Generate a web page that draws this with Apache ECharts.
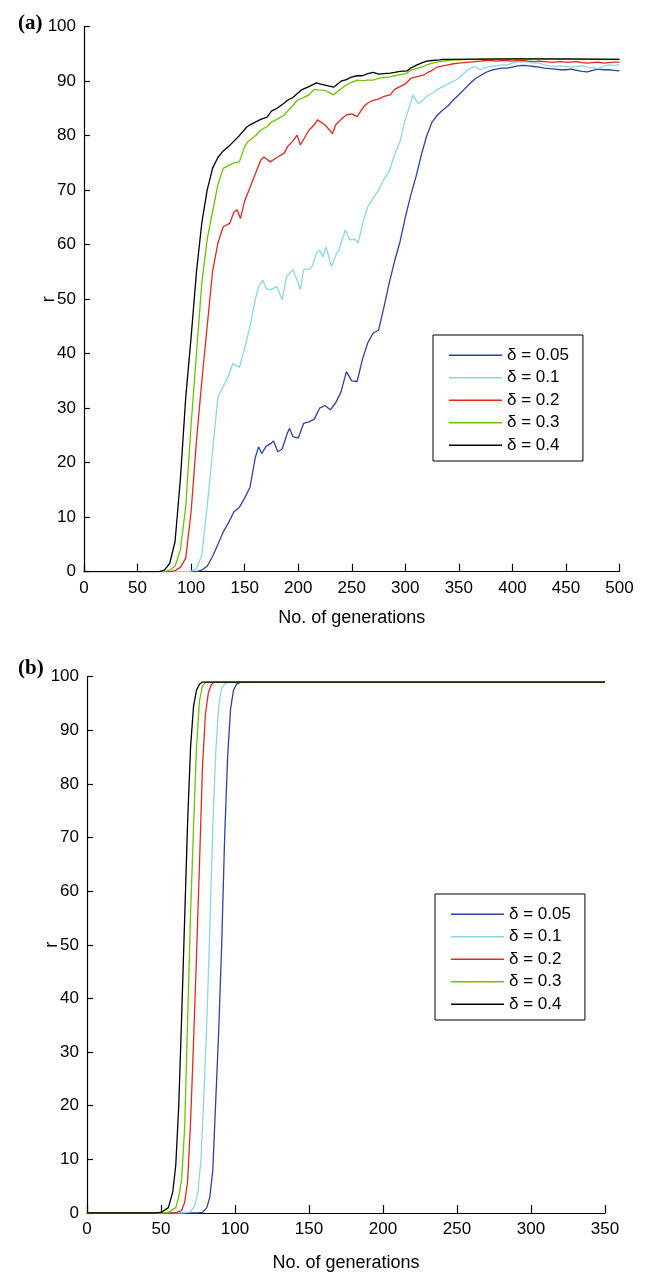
<!DOCTYPE html>
<html>
<head>
<meta charset="utf-8">
<script src="https://cdn.jsdelivr.net/npm/echarts@6/dist/echarts.min.js"></script>
<style>
  html, body { margin: 0; padding: 0; background: #fff; }
  #chart { width: 646px; height: 1273px; }
</style>
</head>
<body>
<div id="chart"></div>
<script>
// Legend / series names
const seriesNames = ['δ = 0.05', 'δ = 0.1', 'δ = 0.2', 'δ = 0.3', 'δ = 0.4'];
const seriesColors = ['#3041a6', '#8ad8e6', '#e5281d', '#6cc400', '#000000'];

// Panel (a): [generation, r]
const blueA = [[0,0],[100,0],[105,0],[110,0.3],[115,1],[120,2.8],[125,5],[130,7.3],[135,9],[140,11],[145,11.8],[150,13.5],[155,15.5],[160,21],[163,22.9],[166,21.7],[170,23],[175,23.6],[177,24],[181,22],[185,22.5],[190,25.5],[192,26.3],[195,24.8],[200,24.5],[205,27.2],[210,27.5],[215,28],[220,30],[225,30.5],[230,29.7],[235,31],[240,33],[245,36.7],[250,35],[255,34.9],[260,39],[265,42],[270,43.8],[275,44.3],[280,48.5],[285,53],[290,57],[295,60.5],[300,65],[305,69],[310,72.5],[315,76.5],[320,80],[325,82.5],[330,83.8],[335,84.7],[340,85.5],[345,86.6],[350,87.5],[355,88.5],[360,89.5],[365,90.4],[370,91],[375,91.6],[380,92],[385,92.2],[390,92.4],[395,92.4],[400,92.6],[405,92.8],[410,92.9],[415,92.8],[420,92.7],[425,92.6],[430,92.4],[435,92.3],[440,92.2],[445,92.1],[450,92.1],[455,92.2],[460,92],[465,91.8],[470,91.7],[475,92],[480,92.2],[485,92.1],[490,92.1],[495,92],[500,91.9]];
const cyanA = [[0,0],[95,0],[100,0.1],[105,0.5],[110,3],[115,12],[120,22],[125,32],[130,34],[133,35.2],[135,36],[139,38.2],[145,37.5],[150,41],[155,45],[160,50],[163,52.3],[167,53.5],[170,52],[174,51.7],[180,52.3],[185,49.9],[189,54.1],[195,55.4],[200,53],[202,51.7],[205,55.4],[210,55.5],[213,56],[217,58.4],[220,59],[223,57.8],[226,59.6],[231,56],[235,58],[238,59],[244,62.7],[248,60.9],[253,61],[256,60.3],[261,64.5],[265,67],[270,68.5],[275,70],[280,72],[285,73.5],[290,76.5],[295,79],[300,83],[305,86],[307,87.5],[312,85.9],[315,86.3],[320,87.2],[325,87.8],[330,88.5],[335,89],[340,89.5],[345,90],[350,90.6],[355,91.5],[360,92.3],[365,92.7],[370,92.1],[375,92.5],[380,92.7],[385,92.8],[390,93],[395,93],[400,93.3],[405,93.5],[410,93.6],[415,93.5],[420,93.3],[425,93.3],[430,93],[435,92.8],[440,92.7],[445,92.8],[450,92.7],[455,92.6],[460,92.7],[465,92.8],[470,92.6],[475,92.5],[480,92.3],[485,92.7],[490,93],[495,92.9],[500,93]];
const redA = [[0,0],[80,0],[85,0.2],[90,0.8],[95,2.5],[100,11],[105,24],[110,35],[115,45],[120,55],[125,60.3],[130,63.3],[136,63.9],[140,66],[143,66.4],[146,64.8],[150,68],[155,70.5],[160,73],[165,75.5],[168,76.1],[174,75.2],[180,76],[187,76.8],[190,78],[195,79],[199,80.1],[202,78.3],[210,81],[215,82],[218,82.9],[225,82],[232,80.4],[235,82],[240,83],[245,83.8],[250,84],[255,83.5],[261,85.3],[265,86],[270,86.5],[275,86.7],[280,87.2],[286,87.5],[290,88.5],[295,89],[300,89.5],[305,90.5],[310,90.8],[317,91.1],[320,91.5],[325,92],[330,92.6],[335,92.8],[340,93],[345,93.2],[350,93.3],[355,93.4],[360,93.5],[365,93.6],[370,93.7],[375,93.8],[380,93.8],[385,93.7],[390,93.8],[395,93.8],[400,93.7],[405,93.8],[410,93.8],[415,93.7],[420,93.6],[425,93.7],[430,93.6],[435,93.5],[440,93.5],[445,93.6],[450,93.5],[455,93.5],[460,93.6],[465,93.4],[470,93.3],[475,93.4],[480,93.5],[485,93.3],[490,93.4],[495,93.5],[500,93.5]];
const greenA = [[0,0],[75,0],[80,0.3],[85,1],[90,4],[95,12],[100,27],[105,40],[110,53],[115,61],[120,66],[125,71],[130,74],[135,74.5],[140,75],[145,75.2],[150,78],[153,78.9],[160,80],[165,81],[171,81.7],[175,82.5],[180,83],[187,83.8],[190,84.5],[195,85.5],[199,86.5],[205,87],[210,87.5],[215,88.5],[218,88.4],[225,88.3],[233,87.5],[240,88.6],[245,89.3],[250,89.8],[255,90.2],[260,90.1],[265,90.2],[270,90.2],[275,90.5],[280,90.7],[286,90.8],[290,91],[295,91.2],[301,91.4],[305,92],[310,92.3],[317,92.7],[320,93],[325,93.3],[332,93.6],[335,93.7],[340,93.8],[345,93.9],[350,93.9],[360,94],[400,94.1],[450,94],[500,94]];
const blackA = [[0,0],[70,0],[75,0.3],[80,1.5],[85,5.5],[90,17],[95,32],[100,43],[105,55],[110,64],[115,70],[120,74],[125,76],[129,77],[135,78],[140,79],[145,80],[152,81.6],[155,82],[160,82.5],[165,83],[171,83.4],[175,84.5],[180,85],[187,86],[190,86.5],[195,87],[203,88.4],[210,89],[217,89.7],[220,89.5],[225,89.3],[233,88.9],[240,90],[245,90.3],[249,90.7],[255,91],[260,91],[265,91.4],[270,91.6],[275,91.3],[280,91.4],[286,91.5],[290,91.6],[295,91.8],[302,91.9],[305,92.4],[310,92.9],[316,93.4],[320,93.7],[325,93.8],[332,93.9],[335,94],[340,94],[400,94.1],[450,94.1],[500,94]];

// Panel (b): [generation, r]
const blueB = [[0,0],[75,0],[78,0.1],[81,1],[83,3],[85,8],[87,21],[89,34],[91,50],[93,70],[95,85],[97,94],[99,97.5],[101,98.6],[104,99],[350,99]];
const cyanB = [[0,0],[65,0],[70,0.2],[73,1.5],[75,4],[77,10],[79,22],[81,36],[83,53],[85,72],[87,86],[89,94.5],[91,97.8],[93,98.6],[96,99],[350,99]];
const redB = [[0,0],[55,0],[60,0.05],[64,0.5],[66,2],[68,6],[70,17],[72,32],[74,48],[76,65],[78,83],[80,93],[82,97],[84,98.5],[86,99],[350,99]];
const greenB = [[0,0],[50,0],[55,0.1],[60,1],[62,3],[64,6.5],[66,16],[68,36],[70,56],[72,72],[74,87],[76,95.5],[78,98.3],[80,98.9],[82,99],[350,99]];
const blackB = [[0,0],[45,0],[50,0.1],[55,1],[58,4],[60,9],[62,20],[64,37],[66,55],[68,73],[70,87],[72,94.5],[74,97.5],[76,98.6],[78,99],[350,99]];

const xMaxA = 500, xMaxB = 350;
const yTicksMax = 100, xStep = 50, yStep = 10;

const FONT = 'Liberation Sans, Arial, Helvetica, sans-serif';

function xAxisFor(gridIndex, max, gap) {
  return {
    type: 'value', gridIndex, min: 0, max, interval: xStep,
    name: 'No. of generations', nameLocation: 'middle', nameGap: gap,
    nameMoveOverlap: false,
    nameTextStyle: { fontFamily: FONT, fontSize: 18, color: '#000' },
    axisLine: { show: true, lineStyle: { color: '#000', width: 1.2 } },
    axisTick: { show: true, inside: true, length: 8, lineStyle: { color: '#000', width: 1.2 } },
    axisLabel: { fontFamily: FONT, fontSize: 17, color: '#000', margin: 8 },
    splitLine: { show: false }
  };
}
function yAxisFor(gridIndex) {
  return {
    type: 'value', gridIndex, min: 0, max: yTicksMax, interval: yStep,
    name: 'r', nameLocation: 'middle', nameGap: 26, nameRotate: 90,
    nameMoveOverlap: false,
    nameTextStyle: { fontFamily: FONT, fontSize: 18, color: '#000' },
    axisLine: { show: true, lineStyle: { color: '#000', width: 1.2 } },
    axisTick: { show: true, inside: true, length: 6, lineStyle: { color: '#000', width: 1.2 } },
    axisLabel: { fontFamily: FONT, fontSize: 17, color: '#000', margin: 8 },
    splitLine: { show: false }
  };
}
function lineSeries(name, data, idx, color) {
  return {
    name, type: 'line', data, xAxisIndex: idx, yAxisIndex: idx,
    showSymbol: false, symbol: 'none', smooth: false,
    lineStyle: { color, width: 1.3 }, itemStyle: { color },
    z: 2
  };
}
function legendFor(left, top) {
  return {
    left, top, orient: 'vertical',
    data: seriesNames,
    icon: 'rect', itemWidth: 53, itemHeight: 1.5, itemGap: 3,
    padding: [10.5, 14, 6, 16],
    borderColor: '#000', borderWidth: 1, backgroundColor: '#fff',
    textStyle: { fontFamily: FONT, fontSize: 17, color: '#000', lineHeight: 19.5 }
  };
}

const chart = echarts.init(document.getElementById('chart'), null, { renderer: 'canvas' });
const dataA = [blueA, cyanA, redA, greenA, blackA];
const dataB = [blueB, cyanB, redB, greenB, blackB];
const series = [];
seriesNames.forEach((n, i) => series.push(lineSeries(n, dataA[i], 0, seriesColors[i])));
seriesNames.forEach((n, i) => series.push(lineSeries(n, dataB[i], 1, seriesColors[i])));

chart.setOption({
  animation: false,
  backgroundColor: '#fff',
  title: [
    { text: '(a)', left: 13, top: 8, textStyle: { fontFamily: 'Liberation Serif, Times New Roman, serif', fontWeight: 'bold', fontSize: 21, color: '#000' } },
    { text: '(b)', left: 13, top: 653, textStyle: { fontFamily: 'Liberation Serif, Times New Roman, serif', fontWeight: 'bold', fontSize: 21, color: '#000' } }
  ],
  grid: [
    { left: 84, right: 26.5, top: 26.7, bottom: 701.3 },
    { left: 87, width: 518, top: 676.7, bottom: 56.3 }
  ],
  xAxis: [xAxisFor(0, xMaxA, 37), xAxisFor(1, xMaxB, 41)],
  yAxis: [yAxisFor(0), yAxisFor(1)],
  legend: [legendFor(433, 335), legendFor(435, 894)],
  series
});
</script>
</body>
</html>
